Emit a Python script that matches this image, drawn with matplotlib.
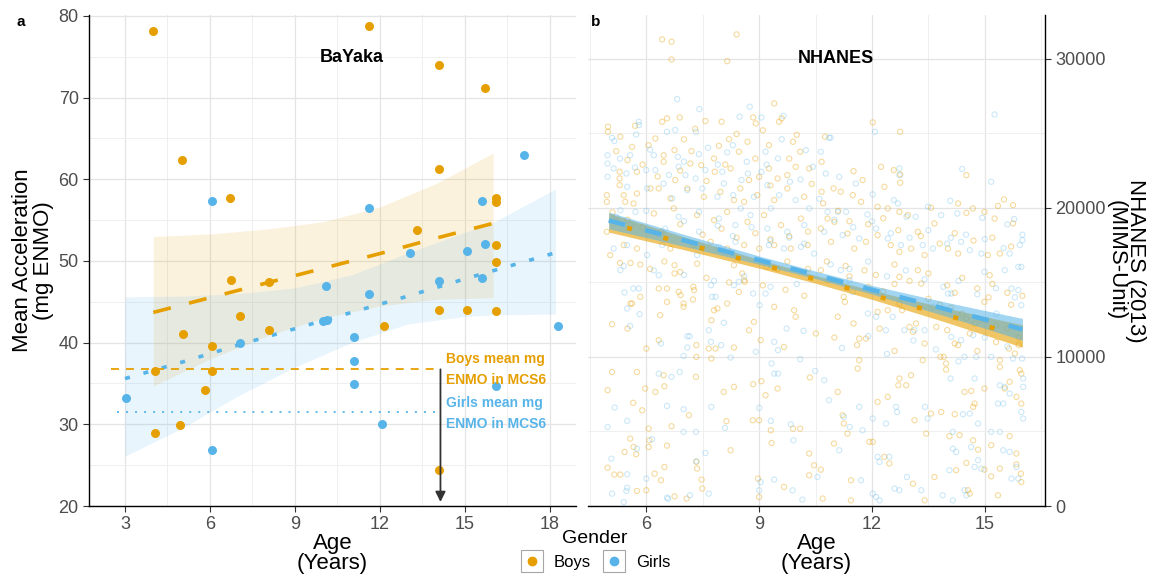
""" BaYaka vs NHANES activity by age. """

import matplotlib.pyplot as plt
from matplotlib.lines import Line2D
from matplotlib.ticker import MultipleLocator

plt.rcParams["font.family"] = ["Liberation Sans", "DejaVu Sans"]

ORANGE = "#E69F00"
BLUE = "#56B4E9"

# panel a: BaYaka mean acceleration (mg ENMO)
boys_age = [4.0, 11.6, 14.1, 15.7, 5.0, 14.1, 6.7, 16.1, 16.1, 13.3, 16.1, 16.1,
            6.75, 8.07, 14.1, 15.08, 16.1, 5.04, 7.07, 8.07, 12.13, 6.07, 4.06,
            6.07, 5.83, 4.93, 4.06, 14.1]
boys_enmo = [78.2, 78.8, 74.0, 71.2, 62.4, 61.3, 57.7, 57.7, 57.2, 53.8, 51.9, 49.9,
             47.7, 47.4, 44.05, 44.05, 43.9, 41.0, 43.2, 41.6, 42.05, 39.6, 36.5,
             36.5, 34.25, 29.9, 28.95, 24.4]
girls_age = [6.07, 11.6, 17.08, 15.6, 13.07, 15.08, 15.7, 14.1, 15.6, 10.09, 11.6,
             10.0, 10.15, 7.07, 11.07, 11.07, 11.07, 18.3, 16.1, 3.05, 12.06, 6.07]
girls_enmo = [57.3, 56.5, 63.0, 57.3, 51.0, 51.2, 52.1, 47.6, 47.9, 46.9, 45.9,
              42.6, 42.8, 40.0, 40.7, 37.8, 34.95, 42.0, 34.75, 33.2, 30.0, 26.8]

boys_fit_age = [4, 6, 8, 10, 12, 14, 16]
boys_fit = [43.7, 45.5, 47.3, 49.1, 50.9, 52.8, 54.6]
boys_lo = [34.7, 38.0, 40.8, 43.0, 44.5, 45.3, 45.5]
boys_hi = [53.0, 53.3, 53.9, 54.8, 56.6, 59.5, 63.2]

girls_fit_age = [3, 5, 7, 9, 11, 13, 15, 16, 18.2]
girls_fit = [35.6, 37.6, 39.7, 41.7, 43.7, 45.7, 47.8, 48.8, 51.0]
girls_lo = [26.1, 29.5, 33.5, 37.0, 40.0, 42.3, 43.2, 43.4, 43.5]
girls_hi = [45.6, 45.7, 46.0, 46.7, 48.3, 51.0, 53.5, 54.7, 58.8]

boys_mcs6 = 36.73
girls_mcs6 = 31.5

# panel b: NHANES (2013) MIMS units
nh_boys_age = [
    6.42, 6.67, 6.67, 8.40, 8.15, 9.40, 9.53, 9.60, 8.84, 8.91, 8.00, 7.57, 6.89, 6.42,
    6.55, 4.98, 4.98, 5.31, 8.40, 8.69, 9.90, 5.62, 6.06, 6.24, 7.00, 7.93, 8.46, 9.26,
    10.09, 5.29, 5.29, 5.29, 5.75, 6.46, 6.46, 6.75, 6.77, 7.17, 7.46, 7.80, 7.82, 8.24,
    8.73, 9.00, 9.26, 9.49, 9.75, 9.97, 10.33, 5.75, 6.11, 6.33, 6.64, 7.09, 7.53, 7.97,
    8.33, 8.60, 8.95, 9.40, 9.75, 10.20, 5.40, 5.44, 5.66, 4.95, 4.95, 6.20, 6.73, 7.35,
    7.80, 8.15, 8.69, 9.13, 9.58, 10.11, 4.95, 5.40, 5.75, 6.64, 7.26, 7.71, 8.15, 8.60,
    9.00, 9.40, 9.84, 10.29, 5.04,
    12.02, 12.75, 10.75, 12.24, 11.51, 11.75, 12.58, 12.75, 12.75, 12.33, 10.66, 10.66,
    10.98, 11.17, 11.49, 11.71, 12.15, 12.42, 12.73, 12.95, 14.51, 14.29, 14.51, 14.68,
    14.99, 15.26, 15.35, 15.51, 15.75, 15.75, 13.57, 13.66, 13.22, 13.04, 13.40, 10.82,
    11.00, 10.64, 10.91, 11.35, 11.53, 11.84, 12.15, 12.50, 12.73, 14.02, 14.29, 15.08,
    15.40,
    5.09, 5.50, 5.58, 5.62, 5.84, 6.33, 6.55, 6.37, 6.55, 6.86, 6.91, 6.99, 6.99, 7.25,
    7.27, 7.24, 6.75, 6.33, 6.00, 5.09, 5.75, 4.97, 5.65, 5.89, 5.97, 6.24, 6.46, 6.48,
    6.67, 7.13, 7.32, 7.33, 7.33, 7.66, 7.84, 7.73, 7.73, 7.80, 7.89, 8.06, 8.33, 8.33,
    8.15, 8.46, 8.60, 8.62, 8.73, 8.84, 9.00, 9.06, 9.04, 8.86, 9.17, 9.33, 9.40, 9.49,
    9.66, 9.93, 9.97, 10.09, 10.33, 10.35, 10.46, 10.51, 4.97, 5.15, 5.31, 5.42, 5.73,
    5.75, 6.00, 6.06, 6.08, 6.06, 6.22, 6.39, 6.48, 6.55, 6.75, 7.07, 7.35, 7.33, 7.47,
    7.49, 8.13, 8.24, 8.83, 8.97, 9.00, 9.31, 9.66, 9.90, 10.33, 5.57, 5.66,
    5.58, 5.84, 6.48, 6.75, 7.35, 8.33, 8.55, 9.20, 9.49, 9.75, 10.30,
    10.64, 10.82, 11.09, 11.25, 11.28, 11.51, 11.66, 11.84, 12.15, 12.42, 12.73, 12.80,
    13.00, 13.09, 13.17, 13.22, 13.31, 12.73, 13.71, 13.82, 13.91, 13.97, 14.20, 14.29,
    14.60, 14.73, 14.51, 14.99, 15.13, 15.40, 15.40, 15.64, 15.80, 15.93, 15.97, 15.84,
    13.04, 13.35, 12.91, 12.73, 12.70, 13.13, 12.42, 12.15, 11.62, 11.66, 11.09, 11.22,
    11.25, 11.35, 11.93, 13.97, 14.46, 14.64, 14.73, 14.69, 14.99, 15.53, 15.66, 15.97,
    13.57, 13.84, 14.20, 13.44, 14.06, 14.33, 14.69, 14.82, 15.17, 15.66, 15.84, 14.51,
    14.24, 14.99, 15.40, 15.84, 15.96, 15.97, 15.17, 14.60, 15.35, 13.66, 13.09, 12.33,
    12.46, 11.44, 11.44, 12.02, 10.99, 10.64, 10.69, 13.40, 14.55,
    11.40, 11.90, 12.30, 12.60, 13.50, 13.80, 14.10, 14.40, 14.90, 15.30, 15.60, 15.90,
    14.20, 15.10, 15.70,
    5.2, 5.5, 5.9, 6.3, 6.9, 7.2, 7.6, 8.1, 8.5, 8.9, 9.3, 9.8, 10.4,
    5.1, 5.5, 5.9, 6.4, 6.9, 7.5, 8.0, 8.4, 8.9, 9.3, 9.8, 10.3,
    5.3, 6.1, 6.9, 7.6, 8.2, 9.1, 9.7, 10.2, 5.7, 7.3, 8.2, 9.1, 10.0,
    10.7, 11.1, 11.4, 11.9, 12.3, 12.7, 13.3, 13.8, 14.2, 14.7, 15.2, 15.7,
    10.8, 11.3, 11.8, 12.1, 12.6, 13.0, 13.5, 14.0, 14.4, 14.8, 15.2, 15.6, 16.0,
    11.0, 11.6, 12.2, 12.6, 13.4, 14.0, 14.8, 15.3, 15.9]
nh_boys_val = [
    31300, 31140, 29950, 31630, 29840, 27000, 25770, 26000, 26060, 25660, 25770, 25820,
    26060, 25770, 26000, 25440, 25100, 24770, 24950, 24430, 24430, 24090, 24200, 24650,
    24590, 24160, 23760, 24200, 23760, 22420, 21970, 21520, 22420, 23530, 23090, 23870,
    21860, 22970, 22860, 23310, 22420, 22640, 21860, 22080, 22640, 21970, 22190, 22750,
    22640, 20960, 21300, 21300, 20630, 21300, 20740, 21070, 20520, 20400, 20850, 20520,
    21300, 20740, 20850, 20400, 20290, 20850, 20400, 19620, 19960, 19510, 19170, 19730,
    19060, 19510, 18840, 19280, 18390, 17500, 17270, 17270, 17500, 17720, 17270, 17500,
    17270, 17500, 17270, 17500, 16830,
    25730, 25100, 24770, 22750, 22460, 21860, 22530, 22240, 21680, 21410, 23090, 21080,
    21300, 21080, 20850, 20400, 20070, 19960, 19730, 19510, 22190, 20290, 19660, 19960,
    19730, 19280, 20130, 20560, 20180, 18950, 20000, 18950, 18390, 17270, 16830, 19280,
    19060, 18610, 17720, 18280, 17270, 17720, 18170, 17500, 17050, 17270, 16930, 16830,
    16930,
    12190, 11900, 13580, 13580, 14030, 14590, 14590, 12800, 13690, 14360, 14140, 13580,
    13360, 14700, 14480, 13850, 15600, 11120, 10560, 8990, 8990, 7770, 6920, 6420, 7880,
    7650, 8770, 8030, 5350, 6090, 8660, 10790, 10000, 10560, 10560, 9890, 12460, 13130,
    13250, 7650, 7990, 10630, 13580, 14360, 15150, 15040, 11790, 8170, 5750, 8370, 11120,
    12350, 7430, 4230, 13360, 7880, 10670, 13130, 12690, 5190, 3520, 8620, 2730, 11570,
    2570, 2110, 2110, 3630, 3470, 1010, 1060, 5190, 4410, 3960, 2170, 1730, 2620, 4050,
    650, 500, 2510, 2960, 1770, 1170, 5690, 3740, 5750, 1840, 610, 5080, 1280, 5190,
    2060, 4520, 3960,
    16300, 16200, 16400, 16150, 16250, 16150, 15600, 16050, 15900, 16400, 15900,
    15820, 15150, 12690, 14030, 13690, 12240, 11230, 11230, 13020, 13130, 13580, 13130,
    12010, 11680, 12240, 15820, 14920, 15370, 12010, 10000, 10000, 9560, 10900, 10790,
    11570, 12240, 12570, 13690, 15480, 9780, 9330, 10560, 10230, 9110, 8880, 7320,
    8770, 9780, 8100, 8550, 8100, 5750, 7320, 6980, 9220, 9780, 7650, 6090,
    5530, 4860, 4300, 9150, 7650, 7720, 6870, 6650, 7880, 7880, 8330, 6870,
    6200, 6310, 6160, 4860, 4680, 4750, 4410, 3780, 4080, 4680, 3520, 2890,
    2400, 2440, 2510, 2800, 2170, 1610, 1990, 830, 720, 1950, 1500, 3300,
    2850, 1730, 380, 4300, 4190, 2440, 500, 380, 1060,
    15400, 14700, 14400, 14900, 13900, 13500, 13300, 12900, 12500, 12100, 11900, 11300,
    14300, 14000, 13500,
    23800, 23200, 22900, 22100, 22500, 23800, 21800, 22900, 21300, 23300, 21500, 23300, 21600,
    19700, 19200, 18700, 18400, 18900, 18200, 18600, 18000, 18300, 17900, 18100, 18400,
    16300, 15900, 15700, 15300, 15000, 14800, 14500, 14100, 25500, 25300, 24600, 25200, 24900,
    20300, 19800, 19100, 18900, 19300, 18500, 18100, 17600, 18300, 17800, 18000, 17400,
    16400, 16100, 15800, 15500, 16200, 15100, 15600, 14800, 15300, 14600, 14900, 14300, 14100,
    11300, 10800, 11900, 10400, 10900, 11800, 10400, 11000, 10800]

nh_girls_age = [
    6.82, 7.41, 8.75, 8.48, 9.06, 9.65, 5.80, 5.80, 7.32, 6.77, 5.09, 5.15, 5.73, 6.55,
    7.64, 8.15, 8.67, 9.17, 9.50, 10.24, 4.97, 5.57, 6.20, 6.84, 4.97, 5.13, 5.47, 6.00,
    6.24, 6.86, 7.04, 7.31, 7.57, 8.02, 8.31, 8.53, 9.06, 9.22, 9.82, 10.43, 4.97, 5.49,
    6.02, 6.46, 6.69, 7.09, 7.49, 7.89, 8.06, 8.51, 8.86, 9.31, 9.53, 9.97, 10.33, 5.31,
    5.71, 6.86, 7.40, 7.93, 8.37, 8.77, 9.22, 9.75, 10.20, 5.13, 5.49, 6.02, 6.42, 7.35,
    7.93, 8.37, 9.26, 9.66, 10.11, 10.46,
    15.26, 12.08, 10.86, 10.90, 10.64, 14.40, 15.17, 10.77, 11.13, 11.57, 12.02, 12.73,
    12.73, 12.58, 10.82, 11.09, 11.31, 11.88, 12.69, 12.92, 13.16, 13.49, 13.84, 14.08,
    14.27, 14.93, 15.60, 15.78, 15.93, 16.00, 10.73, 11.22, 11.66, 12.11, 12.42, 12.77,
    13.35, 13.62, 14.10, 14.37, 14.60, 14.91, 15.66,
    5.31, 5.42, 5.49, 5.65, 5.80, 5.82, 5.57, 6.33, 6.39, 7.09, 7.15, 7.09, 6.99, 6.67,
    6.33, 6.89, 7.66, 7.72, 7.75, 7.84, 7.72, 7.99, 8.06, 8.24, 8.33, 8.46, 8.84, 8.91,
    9.01, 9.17, 9.33, 9.40, 9.50, 9.40, 9.50, 9.73, 10.09, 10.18, 10.49, 5.16, 4.97, 5.49,
    6.55, 6.99, 6.99, 7.32, 7.73, 8.09, 9.00, 9.31, 9.84, 9.91, 6.15, 5.75, 5.07, 5.49,
    5.49, 5.47, 6.00, 6.55, 6.58, 7.16, 7.33, 7.57, 7.66, 9.00, 9.04, 9.40, 9.89, 10.15,
    5.09, 5.40,
    11.17, 11.40, 11.49, 11.89, 12.11, 12.37, 12.55, 12.86, 13.13, 13.40, 13.62, 14.02,
    14.11, 14.11, 14.37, 14.69, 15.04, 15.31, 15.89, 15.71, 15.89, 15.97, 15.53, 14.99,
    15.97, 14.46, 14.77, 15.17, 15.75, 15.99, 14.09, 14.73, 15.40, 15.53, 15.66, 16.02,
    16.02, 15.35, 15.49, 15.97, 16.02, 14.60, 14.42, 14.82, 15.17, 15.40, 14.15, 14.15,
    14.24, 14.64, 14.82, 15.49, 15.66, 15.84, 14.73, 14.91, 15.71, 15.89, 14.06, 14.46,
    14.51, 13.88, 14.15, 13.41, 13.48, 12.64, 12.67, 12.37, 12.02, 11.66, 11.25, 11.41,
    11.75, 12.15, 12.20, 12.46, 12.60, 12.73, 12.93, 13.31, 12.11, 12.20, 11.71, 12.02,
    10.55, 11.13, 10.86, 10.73,
    5.3, 5.7, 6.1, 6.6, 7.0, 7.4, 7.9, 8.3, 8.7, 9.2, 9.6, 10.1,
    5.2, 5.6, 6.0, 6.5, 7.0, 7.4, 7.9, 8.3, 8.8, 9.3, 9.8, 10.2,
    5.4, 6.2, 7.0, 7.8, 8.6, 9.3, 10.0,
    10.6, 11.0, 11.5, 12.0, 12.5, 13.0, 13.5, 14.0, 14.5, 15.0, 15.5, 16.0,
    10.9, 11.4, 11.9, 12.4, 12.9, 13.4, 13.9, 14.3, 14.8, 15.3, 15.8,
    11.2, 11.9, 12.4, 13.1, 13.7, 14.3, 15.0, 15.6]
nh_girls_val = [
    27290, 26620, 26780, 26110, 26060, 26170, 25770, 25550, 25100, 25220, 24700, 24480,
    24920, 25100, 24030, 23720, 23090, 23760, 23310, 23870, 23530, 23530, 23530, 23420,
    22970, 22640, 22300, 22530, 22530, 22750, 22190, 21970, 22530, 22420, 20850, 21860,
    22420, 21520, 21750, 22750, 22080, 21410, 21300, 21630, 20630, 21190, 21300, 20740,
    21630, 19960, 20740, 19960, 20850, 20520, 19960, 19840, 19730, 19400, 19730, 19280,
    18840, 19510, 18610, 18390, 18840, 17270, 17500, 16830, 17500, 16830, 17380, 17720,
    17500, 17270, 17380, 16930,
    26260, 25100, 24700, 24700, 23760, 22600, 21750, 22300, 22080, 21630, 20900, 22640,
    22190, 20520, 19730, 19730, 19730, 19550, 20290, 19400, 19400, 20070, 19510, 20470,
    19620, 19330, 18890, 19240, 17500, 17830, 18390, 18170, 17940, 18610, 17940, 17500,
    17500, 17270, 17990, 17720, 17160, 16930, 16930,
    15820, 14320, 13250, 14590, 14590, 12870, 12080, 15480, 10900, 11390, 11390, 10630,
    10070, 8660, 8880, 8990, 11790, 11010, 14030, 14030, 14810, 10790, 12290, 9960, 14810,
    15040, 14250, 10340, 13470, 14250, 9560, 11010, 10450, 8880, 8880, 11900, 9850, 11750,
    9060, 6600, 5300, 5710, 6710, 6490, 4970, 4970, 6650, 5240, 6580, 5710, 5480, 4410,
    4480, 3850, 3180, 2130, 1230, 1010, 1840, 560, 490, 720, 3000, 3560, 830, 1050, 1610,
    1770, 1050, 430, 830, 270,
    15820, 15150, 14360, 12910, 12690, 11790, 12690, 11790, 11790, 11790, 13360, 14250,
    14250, 11350, 11120, 11460, 12460, 12910, 14480, 14590, 16040, 16040, 15820, 15710,
    13470, 10000, 10000, 10000, 9890, 9890, 8550, 8550, 8100, 7990, 7540, 8550, 7990,
    6870, 6870, 6310, 5870, 6200, 6160, 5530, 4970, 4970, 4970, 3850, 3630, 3960, 3070,
    3740, 3630, 2620, 2620, 2510, 1840, 1840, 2400, 1060, 720, 720, 380, 6650, 5870,
    6650, 6310, 5530, 5870, 6650, 5980, 5300, 5080, 3300, 2960, 3300, 1170, 1060, 1950,
    1060, 610, 380, 1730, 830, 1950, 3740, 7100, 8440,
    23300, 22700, 23900, 22200, 23100, 23600, 22900, 24200, 22300, 22900, 24600, 21900,
    19400, 18900, 19800, 18600, 19100, 18400, 18800, 18100, 18700, 17800, 18000, 17600,
    16100, 15800, 15500, 15100, 15400, 14700, 14900,
    20600, 19200, 18700, 19100, 18300, 18000, 18500, 17600, 18200, 17900, 17300, 18200,
    16200, 15900, 16400, 15400, 15800, 15200, 14700, 15100, 14200, 14600, 14000,
    10600, 11400, 10200, 11100, 10500, 9700, 11300, 10700]

nh_fit_age = [5, 7, 9, 10.5, 12, 14, 16]
nh_boys_fit = [19000, 17620, 16240, 15200, 14160, 12780, 11400]
nh_boys_lo = [18370, 17190, 15950, 14940, 13860, 12300, 10650]
nh_boys_hi = [19630, 18050, 16530, 15460, 14460, 13260, 12150]
nh_girls_fit = [19150, 17820, 16490, 15500, 14500, 13180, 11850]
nh_girls_lo = [18590, 17420, 16210, 15250, 14210, 12710, 11120]
nh_girls_hi = [19710, 18220, 16770, 15750, 14790, 13650, 12580]


def style_axes(ax):
    ax.xaxis.set_minor_locator(MultipleLocator(1.5))
    ax.grid(which="major", color="#E4E4E4", lw=0.9)
    ax.grid(which="minor", color="#EFEFEF", lw=0.7)
    ax.set_axisbelow(True)
    ax.tick_params(which="major", labelsize=13, labelcolor="#4D4D4D",
                   color="#333333", length=4, width=0.8)
    ax.tick_params(which="minor", length=0)
    for s in ax.spines.values():
        s.set_color("black")
        s.set_linewidth(1.0)


fig = plt.figure(figsize=(11.58, 5.76), dpi=100)
ax = fig.add_axes([0.0769, 0.1215, 0.4206, 0.8524])
ax2 = fig.add_axes([0.5078, 0.1215, 0.3946, 0.8524])

# ---- panel a
style_axes(ax)
ax.spines["top"].set_visible(False)
ax.spines["right"].set_visible(False)
ax.yaxis.set_minor_locator(MultipleLocator(5))
ax.set_xlim(1.73, 18.93)
ax.set_ylim(20, 80.1)
ax.set_xticks([3, 6, 9, 12, 15, 18])
ax.set_yticks([20, 30, 40, 50, 60, 70, 80])

ax.fill_between(boys_fit_age, boys_lo, boys_hi, color=ORANGE, alpha=0.13, lw=0)
ax.fill_between(girls_fit_age, girls_lo, girls_hi, color=BLUE, alpha=0.13, lw=0)
ax.plot(boys_fit_age, boys_fit, color=ORANGE, lw=2.6, ls=(0, (5, 5.2)))
ax.plot(girls_fit_age, girls_fit, color=BLUE, lw=2.6, ls=(0, (1.4, 3.9)))
ax.scatter(boys_age, boys_enmo, s=42, color=ORANGE, lw=0, zorder=3)
ax.scatter(girls_age, girls_enmo, s=42, color=BLUE, lw=0, zorder=3)

ax.plot([2.5, 14.14], [boys_mcs6, boys_mcs6], color=ORANGE, lw=1.3, ls=(0, (4.4, 3.9)))
ax.plot([2.7, 14.14], [girls_mcs6, girls_mcs6], color=BLUE, lw=1.3, ls=(0, (1.1, 3.9)))
ax.annotate("", xy=(14.14, 20.5), xytext=(14.14, boys_mcs6),
            arrowprops=dict(arrowstyle="-|>", color="#333333", lw=1.3,
                            mutation_scale=15, shrinkA=0, shrinkB=0))
ax.text(14.33, 37.95, "Boys mean mg", color=ORANGE, fontsize=10, fontweight="bold", va="center")
ax.text(14.33, 35.4, "ENMO in MCS6", color=ORANGE, fontsize=10, fontweight="bold", va="center")
ax.text(14.33, 32.55, "Girls mean mg", color=BLUE, fontsize=10, fontweight="bold", va="center")
ax.text(14.33, 30.0, "ENMO in MCS6", color=BLUE, fontsize=10, fontweight="bold", va="center")

ax.text(11.0, 74.9, "BaYaka", fontsize=13, fontweight="bold", ha="center", va="center")
ax.set_xlabel("Age\n(Years)", fontsize=16, linespacing=0.95, va="center")
ax.xaxis.set_label_coords(0.5, -0.096)
ax.set_ylabel("Mean Acceleration\n(mg ENMO)", fontsize=16, linespacing=0.95, va="center")
ax.yaxis.set_label_coords(-0.115, 0.5)

# ---- panel b
style_axes(ax2)
ax2.spines["top"].set_visible(False)
ax2.spines["left"].set_visible(False)
ax2.yaxis.tick_right()
ax2.yaxis.set_label_position("right")
ax2.yaxis.set_minor_locator(MultipleLocator(5000))
ax2.set_xlim(4.45, 16.6)
ax2.set_ylim(0, 32930)
ax2.set_xticks([6, 9, 12, 15])
ax2.set_yticks([0, 10000, 20000, 30000])

ax2.scatter(nh_boys_age, nh_boys_val, s=14, facecolors="none", edgecolors=ORANGE,
            linewidths=0.8, alpha=0.38)
ax2.scatter(nh_girls_age, nh_girls_val, s=14, facecolors="none", edgecolors=BLUE,
            linewidths=0.8, alpha=0.3)
ax2.fill_between(nh_fit_age, nh_boys_lo, nh_boys_hi, color=ORANGE, alpha=0.6, lw=0)
ax2.plot(nh_fit_age, nh_boys_fit, color=ORANGE, lw=3.3, ls=(4.05, (1.1, 7.1)))
ax2.fill_between(nh_fit_age, nh_girls_lo, nh_girls_hi, color=BLUE, alpha=0.55, lw=0)
ax2.plot(nh_fit_age, nh_girls_fit, color=BLUE, lw=3.3, ls=(0, (3.7, 4.5)))

ax2.text(11.05, 30000, "NHANES", fontsize=13, fontweight="bold", ha="center", va="center")
ax2.set_xlabel("Age\n(Years)", fontsize=16, linespacing=0.95, va="center")
ax2.xaxis.set_label_coords(0.5, -0.096)
ax2.set_ylabel("NHANES (2013)\n(MIMS-Unit)", fontsize=16, linespacing=0.95,
               rotation=270, va="center", ha="center")
ax2.yaxis.set_label_coords(1.177, 0.5)

fig.text(0.0145, 0.962, "a", fontsize=11, fontweight="bold", va="center")
fig.text(0.510, 0.962, "b", fontsize=11, fontweight="bold", va="center")

box = dict(marker="s", markersize=16.5, markerfacecolor="white",
           markeredgecolor="#A6A6A6", markeredgewidth=0.8, linestyle="none")
h_boys = (Line2D([], [], **box),
          Line2D([], [], marker="o", color=ORANGE, markersize=6, linestyle="none"))
h_girls = (Line2D([], [], **box),
           Line2D([], [], marker="o", color=BLUE, markersize=6, linestyle="none"))
fig.legend([h_boys, h_girls], ["Boys", "Girls"], title="Gender", ncol=2,
           loc="lower center", bbox_to_anchor=(0.514, -0.01), frameon=False,
           fontsize=12, title_fontsize=14, handlelength=1.4, handletextpad=0.6,
           columnspacing=0.7, borderpad=0.2)

fig.savefig("out.png", dpi=100)
